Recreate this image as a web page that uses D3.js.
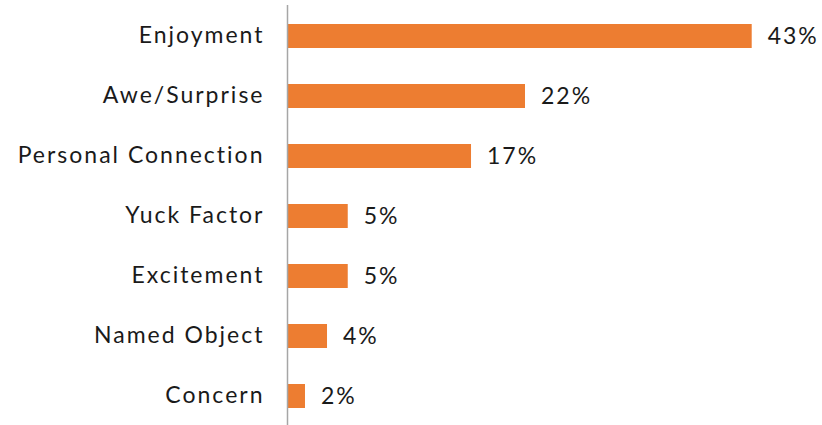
<!DOCTYPE html>
<html>
<head>
<meta charset="utf-8">
<script src="https://d3js.org/d3.v7.min.js"></script>
<style>
  body { margin: 0; background: #fff; }
  text { font-family: Lato, "Open Sans", sans-serif; fill: #1a1a1a; }
</style>
</head>
<body>
<div id="chart"></div>
<script>
const categories = ["Enjoyment", "Awe/Surprise", "Personal Connection", "Yuck Factor", "Excitement", "Named Object", "Concern"]
const values = [43, 22, 17, 5.58, 5.58, 3.66, 1.62]
const valueLabels = ["43%", "22%", "17%", "5%", "5%", "4%", "2%"]

const w = 822, h = 425
const svg = d3.select("#chart").append("svg").attr("width", w).attr("height", h)

const x = d3.scaleLinear().domain([0, 43]).range([287.5, 751.7])
const y = d3.scaleBand().domain(categories).range([6, 426]).paddingInner(0.6).paddingOuter(0.3)

const data = categories.map((c, i) => ({ cat: c, v: values[i], label: valueLabels[i] }))

svg.selectAll("rect.bar")
  .data(data)
  .enter()
  .append("rect")
  .attr("class", "bar")
  .attr("x", x(0))
  .attr("y", d => y(d.cat))
  .attr("width", d => x(d.v) - x(0))
  .attr("height", y.bandwidth())
  .style("fill", "#ed7d31")

// category axis
const yAxis = d3.axisLeft(y).tickSize(0).tickPadding(23)
const g = svg.append("g").attr("transform", "translate(" + x(0) + ",0)").call(yAxis)
g.select(".domain").remove()
g.selectAll("text")
  .style("font-size", "23px")
  .style("letter-spacing", "2px")
  .style("fill", "#1a1a1a")
  .style("font-family", "Lato, sans-serif")

svg.append("line")
  .attr("x1", x(0)).attr("x2", x(0))
  .attr("y1", 5).attr("y2", h)
  .style("stroke", "#a6a6a6")
  .style("stroke-width", 1.5)

svg.selectAll("text.val")
  .data(data)
  .enter()
  .append("text")
  .attr("class", "val")
  .attr("x", d => x(d.v) + 16)
  .attr("y", d => y(d.cat) + y.bandwidth() / 2)
  .attr("dy", "0.35em")
  .style("font-size", "23px")
  .style("letter-spacing", "2px")
  .text(d => d.label)
</script>
</body>
</html>
